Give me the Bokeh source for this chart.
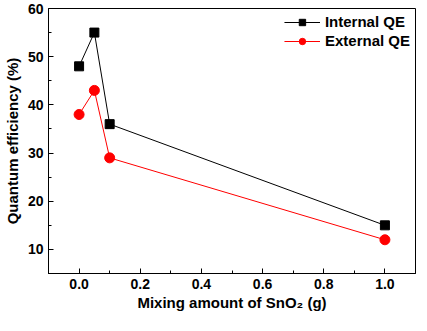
from bokeh.plotting import figure
from bokeh.models import Range1d, FixedTicker, Legend, LegendItem
from bokeh.embed import file_html
from bokeh.resources import INLINE

x_vals = [0.0, 0.05, 0.1, 1.0]
internal_qe = [48, 55, 36, 15]
external_qe = [38, 43, 29, 12]
x_ticks = [0.0, 0.2, 0.4, 0.6, 0.8, 1.0]
y_ticks = [10, 20, 30, 40, 50, 60]

FONT = "Liberation Sans"

p = figure(output_backend="svg", toolbar_location=None,
           frame_width=367, frame_height=265,
           min_border_left=42, min_border_right=2, min_border_top=8, min_border_bottom=42,
           x_range=Range1d(-0.1, 1.1), y_range=Range1d(5, 60))
p.xgrid.visible = False
p.ygrid.visible = False
p.background_fill_color = "white"
p.border_fill_color = "white"
p.outline_line_color = "black"
p.outline_line_width = 1
p.outline_line_alpha = 1

for ax in (p.xaxis[0], p.yaxis[0]):
    ax.axis_line_color = "black"
    ax.axis_line_width = 1
    ax.major_tick_in = 5
    ax.major_tick_out = 0
    ax.minor_tick_in = 3
    ax.minor_tick_out = 0
    ax.major_tick_line_color = "black"
    ax.minor_tick_line_color = "black"
    ax.major_label_text_font = FONT
    ax.major_label_text_font_style = "bold"
    ax.major_label_text_font_size = "14px"
    ax.major_label_text_color = "black"
    ax.axis_label_text_font = FONT
    ax.axis_label_text_font_style = "bold"
    ax.axis_label_text_font_size = "15px"
    ax.axis_label_text_color = "black"

p.xaxis[0].ticker = FixedTicker(ticks=x_ticks, minor_ticks=[-0.1 + 0.2 * i for i in range(7)])
p.yaxis[0].ticker = FixedTicker(ticks=y_ticks, minor_ticks=[5 + 10 * i for i in range(6)])
p.xaxis[0].major_label_overrides = {t: f"{t:.1f}" for t in x_ticks}
p.xaxis[0].axis_label = "Mixing amount of SnO₂ (g)"
p.yaxis[0].axis_label = "Quantum efficiency (%)"
p.xaxis[0].major_label_standoff = 5
p.xaxis[0].axis_label_standoff = 2
p.yaxis[0].major_label_standoff = 5
p.yaxis[0].axis_label_standoff = 4

l1 = p.line(x_vals, internal_qe, line_color="black", line_width=1)
s1 = p.scatter(x_vals, internal_qe, marker="square", size=9, fill_color="black", line_color="black")
l2 = p.line(x_vals, external_qe, line_color="#ff0000", line_width=1)
s2 = p.scatter(x_vals, external_qe, marker="circle", size=10, fill_color="#ff0000", line_color="#ff0000")

legend = Legend(items=[LegendItem(label="Internal QE", renderers=[l1, s1]),
                       LegendItem(label="External QE", renderers=[l2, s2])],
                location="top_right")
legend.border_line_alpha = 0
legend.background_fill_alpha = 0
legend.label_text_font = FONT
legend.label_text_font_style = "bold"
legend.label_text_font_size = "15px"
legend.label_text_color = "black"
legend.glyph_width = 36
legend.glyph_height = 16
legend.label_standoff = 5
legend.spacing = 2
legend.padding = 3
legend.margin = 2
p.add_layout(legend)

open("out.html", "w").write(file_html(p, INLINE))
